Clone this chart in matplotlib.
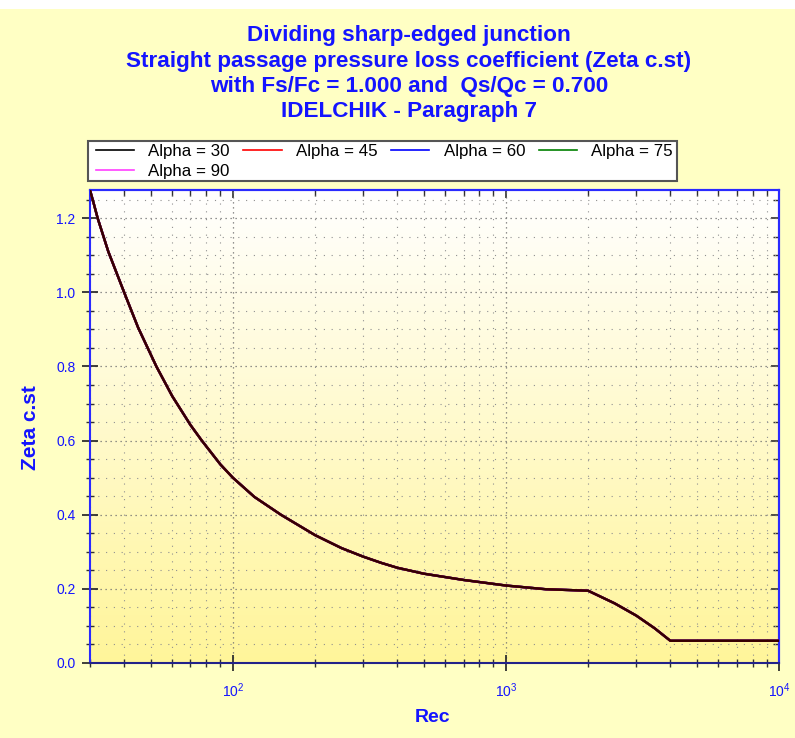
import numpy as np
import matplotlib
matplotlib.use('Agg')
import matplotlib.pyplot as plt
from matplotlib.ticker import MultipleLocator, LogLocator, NullFormatter
from matplotlib.patches import Rectangle

plt.rcParams['font.family'] = ['Liberation Sans', 'DejaVu Sans']

# values (Rec, Zeta c.st) - all five alpha curves coincide
rec = [30, 31, 32, 35, 40, 45, 52.5, 60, 70, 77, 90, 100, 120, 150, 200, 250,
       300, 350, 400, 500, 700, 1000, 1400, 2000, 2500, 3000, 3500, 4000, 10000]
zeta = [1.276, 1.238, 1.20, 1.11, 1.0, 0.905, 0.80, 0.72, 0.642, 0.60, 0.536,
        0.50, 0.448, 0.40, 0.345, 0.31, 0.287, 0.270, 0.257, 0.241, 0.224,
        0.209, 0.199, 0.195, 0.161, 0.128, 0.094, 0.060, 0.060]
labels = ['Alpha = 30', 'Alpha = 45', 'Alpha = 60', 'Alpha = 75', 'Alpha = 90']
colors = ['black', 'red', 'blue', 'green', '#ff40ff']

title_lines = ['Dividing sharp-edged junction',
               'Straight passage pressure loss coefficient (Zeta c.st)',
               'with Fs/Fc = 1.000 and  Qs/Qc = 0.700',
               'IDELCHIK - Paragraph 7']

blue = '#1414ff'
fig = plt.figure(figsize=(7.95, 7.38), dpi=100, facecolor='#ffffc4')
# white strip on top
fig.patches.append(Rectangle((0, 1 - 9 / 738), 1, 9 / 738, transform=fig.transFigure,
                             facecolor='white', edgecolor='none', zorder=0))

ax = fig.add_axes([90 / 795, 1 - 663 / 738, 689 / 795, 473 / 738])

# gradient background white -> yellow
grad = np.linspace(0, 1, 256).reshape(-1, 1)
cmap = matplotlib.colors.LinearSegmentedColormap.from_list('wy', ['#fff59a', '#ffffff'])
ax.imshow(grad, aspect='auto', cmap=cmap, origin='lower', extent=[0, 1, 0, 1],
          transform=ax.transAxes, zorder=0)

# draw in reverse so black ends up on top
handles = []
for lab, c in list(zip(labels, colors))[::-1]:
    alpha = 0.8 if c == 'black' else 1.0
    h, = ax.plot(rec, zeta, color=c, lw=1.7, alpha=alpha, label=lab, zorder=3)
    handles.append(h)
handles = handles[::-1]

ax.set_xscale('log')
ax.set_xlim(30, 10000)
ax.set_ylim(0, 1.276)

ax.yaxis.set_major_locator(MultipleLocator(0.2))
ax.yaxis.set_minor_locator(MultipleLocator(0.05))
ax.yaxis.set_major_formatter(matplotlib.ticker.FormatStrFormatter('%.1f'))
ax.xaxis.set_major_locator(LogLocator(base=10))
ax.xaxis.set_minor_locator(LogLocator(base=10, subs=np.arange(2, 10)))
ax.xaxis.set_minor_formatter(NullFormatter())

ax.grid(which='major', color='#707070', linestyle=(0, (1, 3)), lw=0.9)
ax.grid(which='minor', color='#909090', linestyle=(0, (1, 6)), lw=0.8)

ax.tick_params(which='both', colors='#303030', labelcolor=blue, labelsize=10)
ax.tick_params(which='major', direction='inout', length=11, width=1.3)
ax.tick_params(which='minor', direction='inout', length=5.5, width=1.0)
ax.tick_params(axis='y', pad=5)
ax.tick_params(axis='x', pad=8)

# ticks pointing inward on top and right
top = ax.secondary_xaxis('top')
top.set_xscale('log')
top.xaxis.set_major_locator(LogLocator(base=10))
top.xaxis.set_minor_locator(LogLocator(base=10, subs=np.arange(2, 10)))
top.tick_params(which='both', direction='in', labeltop=False, colors='#303030')
top.tick_params(which='major', length=6, width=1.2)
top.tick_params(which='minor', length=4, width=1.0)
right = ax.secondary_yaxis('right')
right.yaxis.set_major_locator(MultipleLocator(0.2))
right.yaxis.set_minor_locator(MultipleLocator(0.05))
right.tick_params(which='both', direction='in', labelright=False, colors='#303030')
right.tick_params(which='major', length=6, width=1.2)
right.tick_params(which='minor', length=4, width=1.0)

for a in [ax, top, right]:
    for s in a.spines.values():
        s.set_color('#2a2aff')
        s.set_linewidth(1.5)
ax.spines['bottom'].set_color('#22228a')

fig.text(433 / 795, 1 - 717 / 738, 'Rec', ha='center', va='center',
         color=blue, fontsize=14, fontweight='bold')
fig.text(31 / 795, 1 - 428 / 738, 'Zeta c.st', ha='center', va='center', rotation=90,
         color=blue, fontsize=15, fontweight='bold')

for i, t in enumerate(title_lines):
    fig.text(409 / 795, 1 - (36 + 25.3 * i) / 738, t, ha='center', va='center',
             color=blue, fontsize=16.2, fontweight='bold')

# legend box drawn separately so padding can differ per side
fig.patches.append(Rectangle((88 / 795, 1 - 181 / 738), 589 / 795, 40 / 738,
                             transform=fig.transFigure, facecolor='white',
                             edgecolor='#555555', lw=1.5, zorder=1))
# row-major order like the original legend
order = [0, 4, 1, 2, 3]
leg = fig.legend(handles=[handles[i] for i in order], labels=[labels[i] for i in order],
                 ncol=4, loc='upper left', bbox_to_anchor=(95 / 795, 1 - 143 / 738),
                 frameon=False, fontsize=12.2, handlelength=2.25,
                 columnspacing=0.8, handletextpad=0.85, borderpad=0.05,
                 labelspacing=0.28, borderaxespad=0)
for h in leg.get_lines():
    h.set_alpha(1.0)
    h.set_linewidth(1.2)

fig.savefig('out.png', dpi=100, facecolor=fig.get_facecolor())
